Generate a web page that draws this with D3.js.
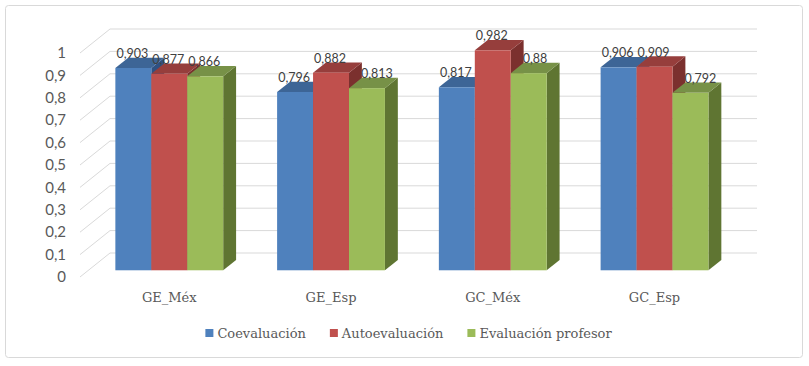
<!DOCTYPE html>
<html>
<head>
<meta charset="utf-8">
<script src="https://cdn.jsdelivr.net/npm/d3@7"></script>
<style>
  html, body { margin: 0; padding: 0; background: #fff; }
</style>
</head>
<body>
<div id="chart"></div>
<script>
var categories = ["GE_Méx", "GE_Esp", "GC_Méx", "GC_Esp"];
var series = ["Coevaluación", "Autoevaluación", "Evaluación profesor"];
var coevaluacion = [0.903, 0.796, 0.817, 0.906];
var autoevaluacion = [0.877, 0.882, 0.982, 0.909];
var evaluacionProfesor = [0.866, 0.813, 0.88, 0.792];
var yTicks = [0, 0.1, 0.2, 0.3, 0.4, 0.5, 0.6, 0.7, 0.8, 0.9, 1];

var values = [coevaluacion, autoevaluacion, evaluacionProfesor];

var colors = {
  "Coevaluación": { front: "#4f81bd", top: "#3d6596", side: "#2f5182" },
  "Autoevaluación": { front: "#c0504d", top: "#963e3c", side: "#7b302e" },
  "Evaluación profesor": { front: "#9bbb59", top: "#779147", side: "#5f7532" }
};

var width = 809,
    height = 366;

// oblique 3d: full depth of the floor
var depthX = 30,
    depthY = 24,
    barFront = 0.28,
    barBack = 0.71;

var svg = d3.select("#chart").append("svg")
  .attr("width", width)
  .attr("height", height);

svg.append("rect")
  .attr("x", 5.5)
  .attr("y", 5.5)
  .attr("width", 797)
  .attr("height", 352)
  .attr("rx", 3)
  .attr("fill", "#fff")
  .attr("stroke", "#d9d9d9");

var x0 = d3.scaleBand()
  .domain(categories)
  .range([80, 727]);

var x1 = d3.scaleBand()
  .domain(series)
  .range([0, x0.bandwidth()])
  .paddingOuter(0.75);

var y = d3.scaleLinear()
  .domain([0, 1])
  .range([277, 53]);

var fmt = function(v) { return String(v).replace(".", ","); };

var grid = svg.append("g")
  .attr("stroke", "#d9d9d9")
  .attr("stroke-width", 1)
  .attr("fill", "none");

grid.selectAll(".back")
  .data(yTicks)
  .enter().append("line")
  .attr("x1", 80 + depthX)
  .attr("x2", 727 + depthX)
  .attr("y1", d => y(d) - depthY)
  .attr("y2", d => y(d) - depthY);

grid.selectAll(".side")
  .data(yTicks)
  .enter().append("line")
  .attr("x1", 80)
  .attr("y1", d => y(d))
  .attr("x2", 80 + depthX)
  .attr("y2", d => y(d) - depthY);

svg.append("g")
  .selectAll("text")
  .data(yTicks)
  .enter().append("text")
  .attr("x", 66)
  .attr("y", d => y(d))
  .attr("dy", "0.35em")
  .attr("text-anchor", "end")
  .attr("font-family", "Lato, 'Open Sans', sans-serif")
  .attr("font-size", 15)
  .attr("fill", "#595959")
  .text(d => fmt(d));

var fx = depthX * barFront,
    fy = depthY * barFront,
    bx = depthX * barBack,
    by = depthY * barBack,
    ddx = bx - fx,
    ddy = by - fy;

var bars = [];
categories.forEach(function(c, i) {
  series.forEach(function(s, j) {
    bars.push({ cat: c, key: s, value: values[j][i], prev: j > 0 ? values[j - 1][i] : null });
  });
});

var barG = svg.append("g");

bars.forEach(function(d) {
  var xl = x0(d.cat) + x1(d.key) + fx,
      xr = xl + x1.bandwidth(),
      yt = y(d.value) - fy,
      yb = y(0) - fy,
      c = colors[d.key];

  barG.append("path")
    .attr("fill", c.side)
    .attr("d", `M${xr},${yt}L${xr + ddx},${yt - ddy}L${xr + ddx},${yb - ddy}L${xr},${yb}Z`);

  barG.append("path")
    .attr("fill", c.top)
    .attr("d", `M${xl},${yt}L${xl + ddx},${yt - ddy}L${xr + ddx},${yt - ddy}L${xr},${yt}Z`);

  barG.append("rect")
    .attr("x", xl)
    .attr("y", yt)
    .attr("width", xr - xl)
    .attr("height", yb - yt)
    .attr("fill", c.front);
});

// labels that would hit the taller neighbour's side are pushed right of it
function bumped(d) {
  return d.prev !== null && y(d.prev) < y(d.value) - 8;
}

svg.append("g")
  .selectAll("text")
  .data(bars)
  .enter().append("text")
  .attr("x", function(d) {
    var xl = x0(d.cat) + x1(d.key) + fx;
    return bumped(d) ? xl + ddx - 1 : xl + x1.bandwidth() / 2 - 1;
  })
  .attr("y", d => y(d.value) - fy - 10)
  .attr("text-anchor", d => bumped(d) ? "start" : "middle")
  .attr("font-family", "Lato, 'Open Sans', sans-serif")
  .attr("font-size", 12.5)
  .attr("fill", "#404040")
  .text(d => fmt(d.value));

svg.append("g")
  .selectAll("text")
  .data(categories)
  .enter().append("text")
  .attr("x", d => x0(d) + x0.bandwidth() / 2 + fx)
  .attr("y", 302)
  .attr("text-anchor", "middle")
  .attr("font-family", "'DejaVu Serif', serif")
  .attr("font-size", 13)
  .attr("fill", "#595959")
  .text(d => d);

var legend = svg.append("g");
var lx = 0;
series.forEach(function(s) {
  var item = legend.append("g").attr("transform", `translate(${lx},0)`);
  item.append("rect")
    .attr("x", 0)
    .attr("y", 329)
    .attr("width", 8)
    .attr("height", 8)
    .attr("fill", colors[s].front);
  var t = item.append("text")
    .attr("x", 12)
    .attr("y", 338)
    .attr("font-family", "'DejaVu Serif', serif")
    .attr("font-size", 13)
    .attr("fill", "#595959")
    .text(s);
  lx += 12 + t.node().getComputedTextLength() + 24;
});
lx -= 24;
legend.attr("transform", `translate(${408.5 - lx / 2},0)`);
</script>
</body>
</html>
